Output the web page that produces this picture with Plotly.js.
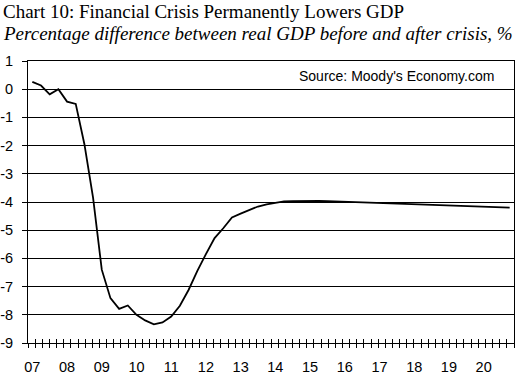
<!DOCTYPE html>
<html><head><meta charset="utf-8">
<script src="https://cdn.plot.ly/plotly-3.0.1.min.js"></script>
<style>html,body{margin:0;padding:0;background:#fff}#chart{width:521px;height:375px}</style>
</head><body><div id="chart"></div>
<script>
const quarters = [
 "2007Q1","2007Q2","2007Q3","2007Q4","2008Q1","2008Q2","2008Q3","2008Q4",
 "2009Q1","2009Q2","2009Q3","2009Q4","2010Q1","2010Q2","2010Q3","2010Q4",
 "2011Q1","2011Q2","2011Q3","2011Q4","2012Q1","2012Q2","2012Q3","2012Q4",
 "2013Q1","2013Q2","2013Q3","2013Q4","2014Q1","2014Q2","2014Q3","2014Q4",
 "2015Q1","2015Q2","2015Q3","2015Q4","2016Q1","2016Q2","2016Q3","2016Q4",
 "2017Q1","2017Q2","2017Q3","2017Q4","2018Q1","2018Q2","2018Q3","2018Q4",
 "2019Q1","2019Q2","2019Q3","2019Q4","2020Q1","2020Q2","2020Q3","2020Q4"];
const gdpDiff = [
 0.26, 0.13, -0.18, 0.0, -0.44, -0.52, -1.95, -3.85,
 -6.4, -7.41, -7.79, -7.67, -8.0, -8.2, -8.34, -8.27,
 -8.06, -7.68, -7.12, -6.45, -5.85, -5.28, -4.93, -4.55,
 -4.41, -4.28, -4.16, -4.08, -4.02, -3.98, -3.97, -3.96,
 -3.96, -3.96, -3.97, -3.98, -3.99, -4.0, -4.01, -4.02,
 -4.03, -4.04, -4.05, -4.06, -4.07, -4.08, -4.09, -4.1,
 -4.11, -4.12, -4.13, -4.14, -4.16, -4.17, -4.18, -4.2];
const yearTicks = ["2007Q1","2008Q1","2009Q1","2010Q1","2011Q1","2012Q1","2013Q1",
 "2014Q1","2015Q1","2016Q1","2017Q1","2018Q1","2019Q1","2020Q1"];
const yearLabels = ["07","08","09","10","11","12","13","14","15","16","17","18","19","20"];
const yTicks = [1,0,-1,-2,-3,-4,-5,-6,-7,-8,-9];
const titleText = "Chart 10: Financial Crisis Permanently Lowers GDP";
const subtitleText = "<i>Percentage difference between real GDP before and after crisis, %</i>";
const sourceText = "Source: Moody's Economy.com";

const W = 521, H = 375;
const M = {l: 28, r: 7, t: 61, b: 32};
const pw = W - M.l - M.r, ph = H - M.t - M.b;
const px = v => (v - M.l) / pw;
const py = v => (H - M.b - v) / ph;

const tickAxis = (ticks) => ({
  overlaying: 'x', anchor: 'y', side: 'bottom', range: [0, 68], dtick: 1, tick0: 0,
  ticks: ticks, ticklen: 4, tickwidth: 1, tickcolor: '#000',
  showticklabels: false, showgrid: false, zeroline: false, showline: false, fixedrange: true
});

const data = [
  {x: quarters, y: gdpDiff, type: 'scatter', mode: 'lines',
   line: {color: '#000', width: 1.8}, hoverinfo: 'skip', showlegend: false},
  {x: [0, 68], y: [null, null], xaxis: 'x2', type: 'scatter', mode: 'lines', showlegend: false, hoverinfo: 'skip'},
  {x: [0, 68], y: [null, null], xaxis: 'x3', type: 'scatter', mode: 'lines', showlegend: false, hoverinfo: 'skip'}
];

const layout = {
  width: W, height: H, margin: M, paper_bgcolor: '#fff', plot_bgcolor: '#fff',
  showlegend: false,
  font: {family: 'Liberation Sans, Arial, sans-serif', size: 14, color: '#000'},
  xaxis: {type: 'category', categoryorder: 'array', categoryarray: quarters,
    range: [-0.5, quarters.length - 0.5], tickmode: 'array', tickvals: yearTicks, ticktext: yearLabels,
    ticks: '', showgrid: false, zeroline: false, showline: true, linecolor: '#000', linewidth: 1,
    mirror: true, ticklabelstandoff: 11,
    tickfont: {family: 'Liberation Sans, Arial, sans-serif', size: 14.5, color: '#000'}},
  xaxis2: tickAxis('outside'),
  xaxis3: tickAxis('inside'),
  yaxis: {range: [-9, 1], tickmode: 'array', tickvals: yTicks, ticktext: yTicks.map(String),
    ticks: 'outside', ticklen: 5, tickwidth: 1, tickcolor: '#000',
    showgrid: true, gridcolor: '#000', gridwidth: 1, zeroline: false,
    showline: true, linecolor: '#000', linewidth: 1, mirror: true, ticklabelstandoff: 6,
    tickfont: {family: 'Liberation Sans, Arial, sans-serif', size: 14.5, color: '#000'}},
  annotations: [
    {text: titleText, xref: 'paper', yref: 'paper', x: px(2), y: py(11.5), xanchor: 'left', yanchor: 'middle',
     borderpad: 0, showarrow: false, font: {family: 'Liberation Serif, Times New Roman, serif', size: 19, color: '#000'}},
    {text: subtitleText, xref: 'paper', yref: 'paper', x: px(2), y: py(33), xanchor: 'left', yanchor: 'middle',
     borderpad: 0, showarrow: false, font: {family: 'Liberation Serif, Times New Roman, serif', size: 19, color: '#000'}},
    {text: sourceText, xref: 'paper', yref: 'paper', x: px(396), y: py(75.5), xanchor: 'center', yanchor: 'middle',
     showarrow: false, font: {family: 'Liberation Sans, Arial, sans-serif', size: 14, color: '#000'}}
  ]
};

Plotly.newPlot('chart', data, layout, {displayModeBar: false, staticPlot: true});
</script></body></html>
